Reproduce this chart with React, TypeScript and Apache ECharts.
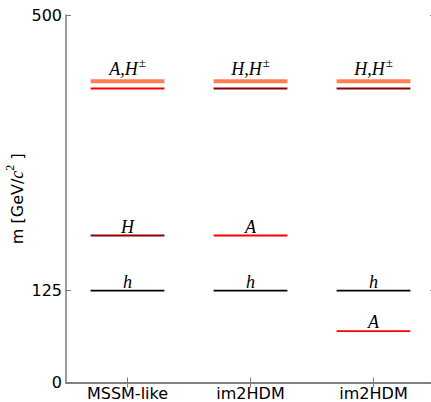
import React, { useEffect, useRef } from "react";
import * as echarts from "echarts";

const categories = ["MSSM-like", "im2HDM", "im2HDM"];
const yTicks = [0, 125, 500];

// mass levels (one horizontal line each)
const levelCategory = [0, 0, 0, 0, 1, 1, 1, 1, 2, 2, 2, 2];
const levelMass = [410, 400, 200, 125, 410, 400, 200, 125, 410, 400, 125, 70];
const levelParticle = ["H±", "A", "H", "h", "H±", "H", "A", "h", "H±", "H", "h", "A"];

// text labels above the levels
const labelCategory = [0, 0, 0, 1, 1, 1, 2, 2, 2];
const labelMass = [410, 200, 125, 410, 200, 125, 410, 125, 70];
const labelText = ["A,H±", "H", "h", "H,H±", "A", "h", "H,H±", "h", "A"];

const particleStyle: Record<string, { color: string; width: number }> = {
  "H±": { color: "#FF7F50", width: 4 },
  A: { color: "#FF0000", width: 1.8 },
  H: { color: "#8B0000", width: 1.8 },
  h: { color: "#000000", width: 1.8 },
};

const AXIS_COLOR = "#7a7a7a";

export default function App() {
  const ref = useRef<HTMLDivElement>(null);
  useEffect(() => {
    document.body.style.margin = "0";
    const chart = echarts.init(ref.current!, null, { renderer: "svg" });

    const levelData = levelCategory.map((c, i) => [c, levelMass[i]]);
    const labelData = labelCategory.map((c, i) => [c, labelMass[i]]);

    const labelOffset = (cat: number, mass: number) => {
      let w = 1.8;
      levelCategory.forEach((c, i) => {
        if (c === cat && levelMass[i] === mass) w = particleStyle[levelParticle[i]].width;
      });
      return w >= 3 ? 12 : 9;
    };

    const xAxisCommon = {
      type: "category" as const,
      data: categories,
      boundaryGap: true,
      axisLine: { show: true, lineStyle: { color: AXIS_COLOR, width: 1.5 } },
      axisTick: { show: true, inside: true, alignWithLabel: true, length: 5, interval: 0, lineStyle: { color: AXIS_COLOR } },
      splitLine: { show: false },
    };
    const yAxisCommon = {
      type: "value" as const,
      min: 0,
      max: 500,
      axisLine: { show: true, lineStyle: { color: AXIS_COLOR, width: 1.5 } },
      axisTick: { show: true, inside: true, length: 5, customValues: yTicks, lineStyle: { color: AXIS_COLOR } },
      splitLine: { show: false },
    };

    chart.setOption({
      animation: false,
      backgroundColor: "#ffffff",
      grid: { left: 66, right: -4, top: 15, bottom: 19.5, containLabel: false, outerBoundsMode: "none" },
      xAxis: [
        {
          ...xAxisCommon,
          position: "bottom",
          axisLabel: { show: true, interval: 0, color: "#000", fontSize: 16, lineHeight: 16, fontFamily: "DejaVu Sans", margin: 3 },
        },
        { ...xAxisCommon, position: "top", axisLabel: { show: false } },
      ],
      yAxis: [
        {
          ...yAxisCommon,
          position: "left",
          name: "m [GeV/{i|c}{s|2} ]",
          nameLocation: "middle",
          nameGap: 36,
          nameRotate: 90,
          nameMoveOverlap: false,
          nameTextStyle: {
            color: "#000",
            fontSize: 16,
            fontFamily: "DejaVu Sans",
            rich: {
              i: { fontFamily: "Liberation Serif", fontStyle: "italic", fontSize: 18, color: "#000" },
              s: { fontFamily: "Liberation Serif", fontSize: 12, color: "#000", padding: [0, 0, 14, 0] },
            },
          },
          axisLabel: { show: true, customValues: yTicks, color: "#000", fontSize: 16, fontFamily: "DejaVu Sans", margin: 4 },
        },
        { ...yAxisCommon, position: "right", axisLabel: { show: false } },
      ],
      series: [
        {
          type: "custom",
          xAxisIndex: 0,
          yAxisIndex: 0,
          data: levelData,
          clip: false,
          renderItem: (params: any, api: any) => {
            const p = api.coord([api.value(0), api.value(1)]);
            const bw = api.size([1, 0])[0];
            const half = bw * 0.3;
            const st = particleStyle[levelParticle[params.dataIndex]];
            return {
              type: "line",
              shape: { x1: p[0] - half, y1: p[1], x2: p[0] + half, y2: p[1] },
              style: { stroke: st.color, lineWidth: st.width },
            };
          },
        },
        {
          type: "custom",
          xAxisIndex: 0,
          yAxisIndex: 0,
          data: labelData,
          clip: false,
          renderItem: (params: any, api: any) => {
            const cat = api.value(0);
            const mass = api.value(1);
            const p = api.coord([cat, mass]);
            const raw = labelText[params.dataIndex];
            const text = raw.replace("±", "{sup|±}");
            return {
              type: "text",
              x: p[0],
              y: p[1] - labelOffset(cat, mass),
              style: {
                text,
                align: "center",
                verticalAlign: "middle",
                fontFamily: "Liberation Serif",
                fontStyle: "italic",
                fontSize: 18,
                fill: "#000",
                rich: {
                  sup: { fontFamily: "Liberation Serif", fontStyle: "normal", fontSize: 13, fill: "#000", padding: [0, 0, 14, 1] },
                },
              },
            };
          },
        },
      ],
    });
    return () => chart.dispose();
  }, []);
  return <div ref={ref} style={{ width: 431, height: 402 }} />;
}
